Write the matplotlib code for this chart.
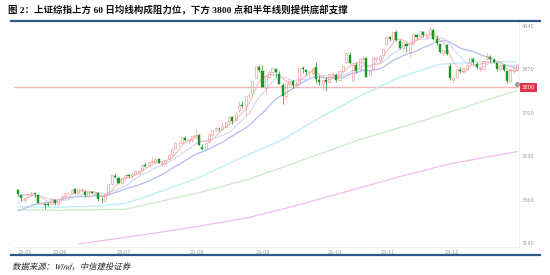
import numpy as np
import pandas as pd
import matplotlib
matplotlib.use("Agg")
import matplotlib.pyplot as plt
from matplotlib.lines import Line2D
from matplotlib.patches import PathPatch
from matplotlib.textpath import TextPath
from matplotlib.font_manager import FontProperties
from matplotlib.transforms import blended_transform_factory, Affine2D, IdentityTransform

# ---- data: daily candles, 2025-05-15 .. 2025-12-19 ----
opens = [
    # May
    3398, 3378, 3360, 3369, 3381, 3384, 3378, 3345, 3343, 3342, 3342, 3360,
    # Jun
    3342, 3361, 3375, 3384, 3385, 3400, 3386, 3398, 3390, 3373, 3389, 3383,
    3387, 3360, 3355, 3383, 3420, 3451, 3445, 3424,
    # Jul
    3444, 3455, 3452, 3460, 3466, 3474, 3497, 3493, 3508, 3506, 3520, 3501,
    3505, 3518, 3538, 3562, 3580, 3583, 3603, 3590, 3592, 3610, 3615,
    # Aug
    3566, 3560, 3585, 3612, 3633, 3636, 3638, 3646, 3668, 3685, 3670, 3710,
    3731, 3725, 3768, 3777, 3838, 3880, 3865, 3796, 3841,
    # Sep
    3858, 3872, 3852, 3807, 3765, 3812, 3826, 3807, 3815, 3874, 3869, 3859,
    3855, 3880, 3830, 3812, 3828, 3822, 3850, 3848, 3830, 3864,
    # Oct
    3898, 3927, 3830, 3888, 3870, 3910, 3914, 3850, 3868, 3911, 3905, 3928,
    3970, 3996, 3990, 4015, 3980,
    # Nov
    3952, 3970, 3940, 3970, 4005, 4000, 4018, 3996, 4003, 4025, 3990, 3968,
    3935, 3965, 3885, 3830, 3840, 3868, 3865, 3873,
    # Dec
    3895, 3912, 3893, 3872, 3870, 3910, 3920, 3908, 3895, 3870, 3886, 3862,
    3826, 3865, 3868,
]
highs = [
    3403, 3381, 3371, 3382, 3392, 3387, 3380, 3355, 3346, 3350, 3365, 3361,
    3362, 3377, 3388, 3391, 3402, 3404, 3403, 3406, 3396, 3390, 3392, 3391,
    3389, 3370, 3383, 3421, 3455, 3465, 3448, 3445,
    3460, 3462, 3464, 3474, 3476, 3498, 3509, 3510, 3526, 3522, 3524, 3510,
    3518, 3540, 3562, 3584, 3590, 3605, 3608, 3599, 3610, 3636, 3617,
    3576, 3583, 3617, 3634, 3645, 3646, 3660, 3667, 3688, 3688, 3704, 3746,
    3746, 3766, 3787, 3826, 3884, 3888, 3887, 3845, 3866,
    3876, 3873, 3862, 3816, 3815, 3831, 3829, 3825, 3876, 3885, 3872, 3868,
    3880, 3899, 3848, 3829, 3842, 3855, 3860, 3856, 3866, 3884,
    3937, 3940, 3892, 3898, 3913, 3924, 3918, 3869, 3917, 3920, 3925, 3952,
    3999, 4000, 4017, 4025, 3986,
    3977, 3973, 3970, 4010, 4010, 4020, 4022, 4008, 4035, 4028, 4005, 3970,
    3950, 3969, 3895, 3840, 3872, 3878, 3880, 3890,
    3920, 3920, 3900, 3883, 3905, 3937, 3925, 3915, 3898, 3892, 3890, 3864,
    3871, 3880, 3893,
]
lows = [
    3376, 3355, 3352, 3365, 3376, 3372, 3346, 3340, 3325, 3335, 3340, 3338,
    3340, 3358, 3370, 3380, 3383, 3382, 3383, 3391, 3370, 3369, 3380, 3378,
    3355, 3348, 3353, 3381, 3418, 3443, 3420, 3420,
    3438, 3448, 3449, 3455, 3460, 3473, 3488, 3490, 3504, 3500, 3502, 3490,
    3500, 3516, 3535, 3560, 3570, 3580, 3588, 3577, 3585, 3606, 3573,
    3553, 3557, 3583, 3610, 3628, 3627, 3633, 3640, 3660, 3657, 3666, 3705,
    3717, 3689, 3759, 3769, 3836, 3859, 3800, 3775, 3834,
    3847, 3841, 3811, 3733, 3752, 3802, 3796, 3800, 3812, 3855, 3849, 3840,
    3850, 3815, 3810, 3790, 3785, 3815, 3838, 3822, 3826, 3858,
    3897, 3895, 3820, 3855, 3866, 3903, 3839, 3846, 3867, 3901, 3898, 3925,
    3968, 3981, 3983, 3983, 3950,
    3940, 3940, 3919, 3968, 3990, 3995, 3995, 3992, 4000, 3985, 3965, 3935,
    3925, 3925, 3830, 3815, 3835, 3856, 3860, 3866,
    3890, 3893, 3870, 3865, 3866, 3908, 3900, 3895, 3865, 3860, 3862, 3815,
    3820, 3855, 3865,
]
closes = [
    3380, 3367, 3367, 3381, 3387, 3380, 3348, 3346, 3340, 3339, 3363, 3347,
    3361, 3376, 3384, 3385, 3399, 3385, 3402, 3403, 3377, 3388, 3387, 3388,
    3362, 3359, 3381, 3420, 3455, 3448, 3424, 3444,
    3457, 3454, 3461, 3473, 3473, 3497, 3493, 3509, 3510, 3520, 3505, 3503,
    3516, 3534, 3560, 3582, 3582, 3605, 3593, 3597, 3609, 3615, 3573,
    3560, 3583, 3617, 3634, 3640, 3635, 3647, 3665, 3684, 3666, 3697, 3728,
    3727, 3766, 3771, 3826, 3884, 3868, 3800, 3843, 3858,
    3876, 3858, 3813, 3766, 3812, 3826, 3807, 3812, 3875, 3871, 3860, 3861,
    3876, 3831, 3820, 3829, 3822, 3853, 3853, 3828, 3862, 3883,
    3934, 3897, 3889, 3865, 3912, 3916, 3839, 3864, 3917, 3914, 3922, 3950,
    3997, 3988, 4016, 3987, 3955,
    3976, 3961, 3969, 4008, 3997, 4019, 4003, 4001, 4029, 3990, 3972, 3939,
    3947, 3932, 3835, 3836, 3870, 3865, 3875, 3889,
    3914, 3898, 3878, 3876, 3903, 3924, 3910, 3900, 3873, 3889, 3867, 3825,
    3870, 3876, 3890,
]
# closes before the window, used only for the short moving averages
history_closes = [3267, 3276, 3281, 3277, 3291, 3300, 3296, 3297, 3295, 3288,
                  3287, 3279, 3317, 3343, 3353, 3342, 3369, 3374, 3404]

# long moving averages (day index, value)
ma60_idx = [0, 12, 24, 32, 39, 54, 66, 79, 90, 102, 114, 126, 138, 149]
ma60_val = [3332, 3330, 3335, 3345, 3375, 3446, 3520, 3595, 3680, 3765, 3840, 3890, 3900, 3900]
ma120_idx = [0, 12, 32, 54, 69, 84, 102, 121, 138, 149]
ma120_val = [3320, 3318, 3322, 3387, 3440, 3510, 3595, 3670, 3741, 3788]
ma250_idx = [18, 39, 54, 69, 84, 99, 114, 129, 149]
ma250_val = [3186, 3225, 3256, 3290, 3340, 3395, 3450, 3500, 3548]

support_level = 3800
last_marker = 3813
y_ticks = [3190, 3360, 3530, 3700, 3870, 4040]
x_tick_pos = [2, 12.5, 31.5, 53.5, 73, 94.5, 110.5, 129.5]
x_tick_labels = ["25-05", "25-06", "25-07", "25-08", "25-09", "25-10", "25-11", "25-12"]

title = "图 2：上证综指上方 60 日均线构成阻力位，下方 3800 点和半年线则提供底部支撑"
source = "数据来源：Wind，中信建投证券"

# ---- figure ----
W, H = 550, 275
fig = plt.figure(figsize=(W / 100, H / 100), dpi=100)
ax = fig.add_axes([14 / W, 1 - 247 / H, (519 - 14) / W, (247 - 22) / H])

o = np.array(opens, float)
h = np.array(highs, float)
l = np.array(lows, float)
c = np.array(closes, float)
x = np.arange(len(c))

allc = pd.Series(history_closes + closes, dtype=float)
nh = len(history_closes)
ma5 = allc.rolling(5, min_periods=1).mean().iloc[nh:].values
ma10 = allc.rolling(10, min_periods=1).mean().iloc[nh:].values
ma20 = allc.rolling(20, min_periods=1).mean().iloc[nh:].values

ax.axhline(support_level, color="#f5b8b8", lw=1.0, zorder=1)

ax.plot(ma250_idx, ma250_val, color="#f1bcf1", lw=0.9, zorder=2)
ax.plot(ma120_idx, ma120_val, color="#c6ebc6", lw=0.9, zorder=2)
ax.plot(ma60_idx, ma60_val, color="#b8edf3", lw=0.9, zorder=2)
ax.plot(x, ma20, color="#b3bbf2", lw=0.9, zorder=2)
ax.plot(x, ma10, color="#d2d6f6", lw=0.8, zorder=2)
ax.plot(x, ma5, color="#f7bcbc", lw=0.8, zorder=2)

up = c >= o
up_col = "#f3a3a3"
dn_col = "#179a1d"
top = np.maximum(o, c)
bot = np.minimum(o, c)
hgt = np.maximum(top - bot, 1.0)
w = 0.62

ax.vlines(x[up], l[up], bot[up], color=up_col, lw=0.5, zorder=3)
ax.vlines(x[up], top[up], h[up], color=up_col, lw=0.5, zorder=3)
ax.bar(x[up], hgt[up], bottom=bot[up], width=w, facecolor="none",
       edgecolor=up_col, lw=0.5, zorder=3)
ax.vlines(x[~up], l[~up], h[~up], color=dn_col, lw=0.5, zorder=3)
ax.bar(x[~up], hgt[~up], bottom=bot[~up], width=w, color=dn_col,
       edgecolor=dn_col, lw=0.3, zorder=3)

ax.plot([x[-1]], [last_marker], "o", color="#9c9c9c", ms=2.6, zorder=4)

ax.set_xlim(-1.2, len(c) - 1 + 0.6)
ax.set_ylim(3174.3, 4055.7)

ax.yaxis.tick_right()
ax.set_yticks(y_ticks)
ax.set_yticklabels([str(v) for v in y_ticks])
ax.set_xticks(x_tick_pos)
ax.set_xticklabels(x_tick_labels)
ax.tick_params(axis="both", length=0, labelsize=3.6, labelcolor="#9a9a9a")
ax.tick_params(axis="x", pad=2.5)
ax.tick_params(axis="y", pad=2)

for s in ["top", "left"]:
    ax.spines[s].set_visible(False)
for s in ["bottom", "right"]:
    ax.spines[s].set_color("#ececec")
    ax.spines[s].set_linewidth(0.6)

# 3800 tag on the right axis
tr = blended_transform_factory(ax.transAxes, ax.transData)
ax.text(1.006, support_level, str(support_level), transform=tr, ha="left",
        va="center", fontsize=3.8, color="white", clip_on=False, zorder=5,
        bbox=dict(boxstyle="square,pad=0.35", facecolor="#e3324a",
                  edgecolor="none"))

# header / footer
cjk = ["Liberation Serif", "Noto Sans CJK SC", "DejaVu Sans"]
fig.text(8 / W, 1 - 10.5 / H, title, fontsize=6.8, fontweight="bold",
         ha="left", va="center", family=cjk, color="#111111")
fig.add_artist(Line2D([11 / W, 540 / W], [1 - 21 / H] * 2, color="#2b5b86",
                      lw=1.6, transform=fig.transFigure))
fig.add_artist(Line2D([11 / W, 540 / W], [1 - 255 / H] * 2, color="#2b5b86",
                      lw=1.6, transform=fig.transFigure))

# source line, slanted by hand since the CJK font has no italic
try:
    tp = TextPath((0, 0), source, size=8.4,
                  prop=FontProperties(family=cjk, style="italic"))
    slant = Affine2D().skew_deg(14, 0).translate(12, H - 269.5)
    fig.add_artist(PathPatch(tp, transform=slant + IdentityTransform(),
                             facecolor="#222222", edgecolor="none"))
except Exception:
    fig.text(12 / W, 1 - 266 / H, source, fontsize=6.2, style="italic",
             ha="left", va="center", family=cjk, color="#222222")

fig.savefig("out.png", dpi=100)
